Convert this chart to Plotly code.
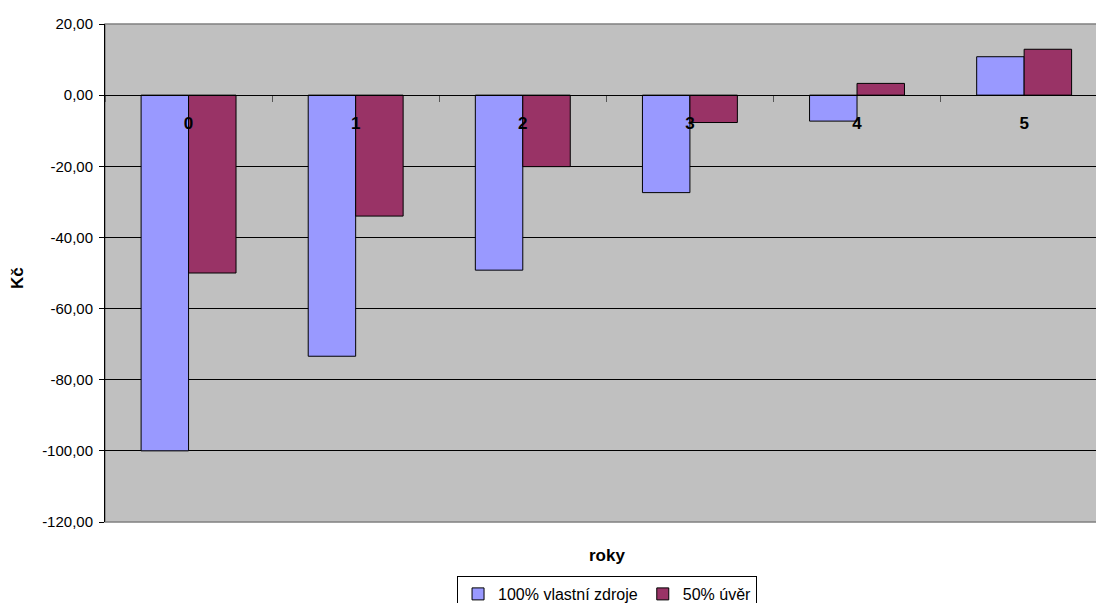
import plotly.graph_objects as go

# Years and cash-flow values (Kč) for the two financing variants
roky = ["0", "1", "2", "3", "4", "5"]
vlastni_zdroje = [-100.0, -73.4, -49.2, -27.4, -7.3, 10.8]
uver_50 = [-50.0, -34.0, -20.1, -7.7, 3.3, 12.9]

y_ticks = [20, 0, -20, -40, -60, -80, -100, -120]
y_tick_labels = ["20,00", "0,00", "-20,00", "-40,00", "-60,00", "-80,00", "-100,00", "-120,00"]

FONT = "Liberation Sans, Arial, sans-serif"

fig = go.Figure()
fig.add_trace(go.Bar(
    x=roky, y=vlastni_zdroje, name="100% vlastní zdroje",
    marker=dict(color="#9999FF", line=dict(color="#000000", width=1)),
))
fig.add_trace(go.Bar(
    x=roky, y=uver_50, name="50% úvěr",
    marker=dict(color="#993366", line=dict(color="#000000", width=1)),
))

fig.update_layout(
    width=1096, height=603,
    margin=dict(l=105, r=0, t=24, b=81),
    paper_bgcolor="#FFFFFF",
    plot_bgcolor="#C0C0C0",
    barmode="group",
    bargap=0.432,
    bargroupgap=0,
    font=dict(family=FONT, size=14, color="#000000"),
    showlegend=True,
    legend=dict(
        orientation="h",
        xref="paper", x=0.5066, xanchor="center",
        yref="container", y=1 - 576 / 603, yanchor="top",
        bordercolor="#000000", borderwidth=1,
        bgcolor="#FFFFFF",
        font=dict(family=FONT, size=16),
        itemwidth=30,
    ),
    xaxis=dict(
        type="category",
        range=[-0.5, 5.43],
        anchor="free",
        position=120 / 140,
        showline=True, linecolor="#000000", linewidth=1,
        showgrid=False, zeroline=False,
        ticks="outside", tickson="boundaries", ticklen=6, tickcolor="#555555",
        tickfont=dict(family=FONT, size=17, color="#000000", weight="bold"),
        ticklabelstandoff=12,
    ),
    yaxis=dict(
        range=[-120, 20],
        tickvals=y_ticks,
        ticktext=y_tick_labels,
        showline=True, linecolor="#000000", linewidth=1,
        showgrid=True, gridcolor="#000000", gridwidth=1,
        zeroline=False,
        ticks="outside", ticklen=5, tickcolor="#000000",
        tickfont=dict(family=FONT, size=15),
        ticklabelstandoff=3,
    ),
)

# Plot-area frame (top and bottom edges)
fig.add_shape(type="rect", xref="paper", yref="paper", x0=0, x1=1.01, y0=0, y1=1,
              line=dict(color="#808080", width=1.5), layer="below")

# Axis titles
fig.add_annotation(text="<b>roky</b>", xref="paper", yref="paper",
                   x=0.5066, y=0, yshift=-33, xanchor="center", yanchor="middle",
                   showarrow=False, font=dict(family=FONT, size=17))
fig.add_annotation(text="<b>Kč</b>", xref="paper", yref="paper",
                   x=0, xshift=-87, y=0.49, xanchor="center", yanchor="middle",
                   textangle=-90, showarrow=False, font=dict(family=FONT, size=17))

fig.write_html("out.html")
